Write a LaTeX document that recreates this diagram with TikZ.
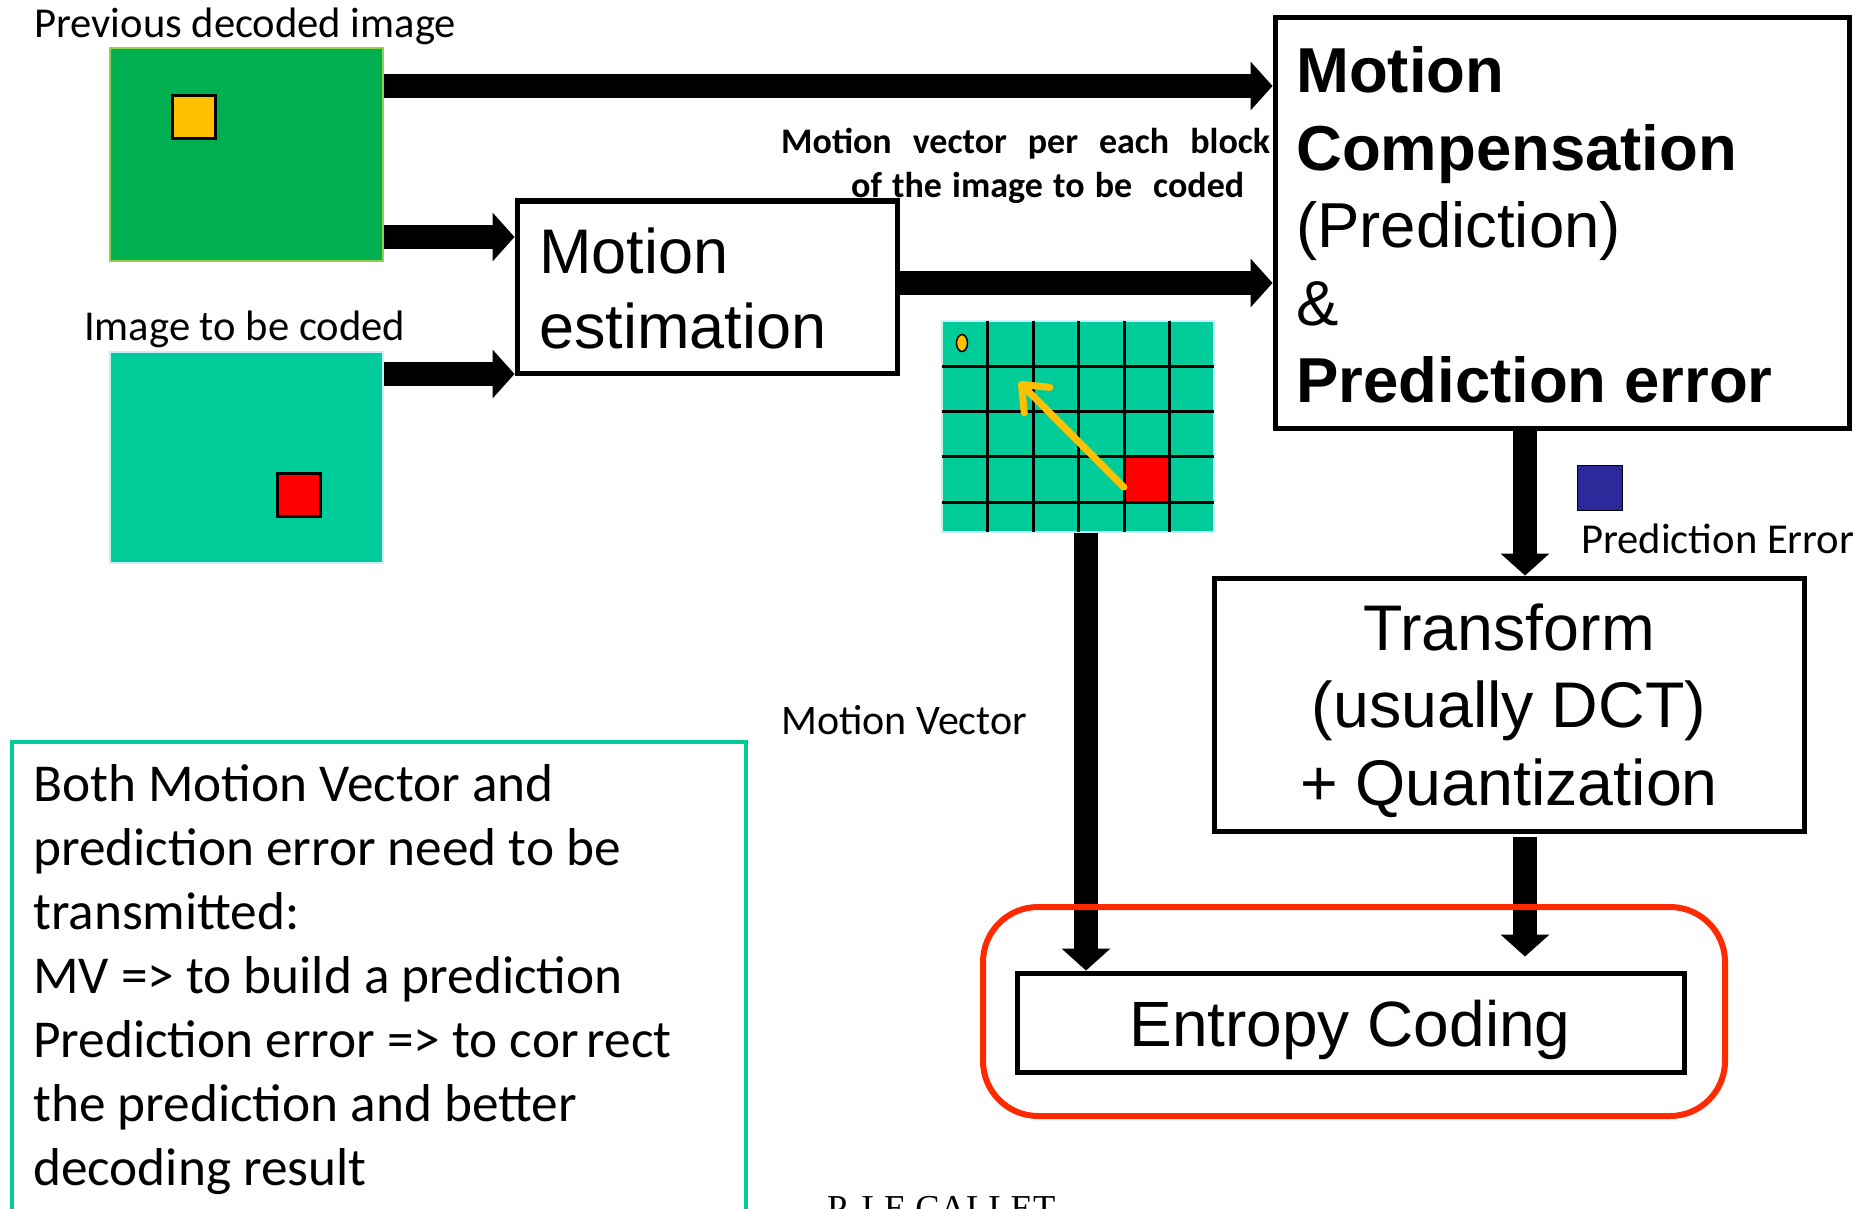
\documentclass[tikz,border=0pt]{standalone}
\usepackage{fontspec}
\setmainfont{Carlito}
\newfontfamily\calibri{Carlito}
\newfontfamily\arial{Liberation Sans}
\newfontfamily\tnr{Liberation Serif}
\usetikzlibrary{arrows.meta}

\definecolor{prevgreen}{HTML}{00B050}
\definecolor{prevedge}{HTML}{92D050}
\definecolor{curteal}{HTML}{00CC99}
\definecolor{curedge}{HTML}{CDEFFA}
\definecolor{blockyellow}{HTML}{FFC000}
\definecolor{errblue}{HTML}{2A2A9A}
\definecolor{hlred}{HTML}{FF2A00}

\begin{document}
\begin{tikzpicture}[x=1pt,y=-1pt,
  bigarrow/.style={line width=24pt,-{Triangle[length=22pt,width=49pt,line width=0pt]}},
  box/.style={draw,line width=5pt,inner sep=0pt},
  picture/.style={inner sep=0pt,line width=2pt},
  blk/.style={draw=black,line width=3pt,minimum size=43pt,inner sep=0pt},
  lbl/.style={inner sep=0pt,anchor=base west,font=\calibri\fontsize{42.6}{50}\selectfont},
  gridline/.style={line width=3pt,black},
  mvarrow/.style={draw=blockyellow,line width=7pt,line cap=round,
    -{Straight Barb[length=22pt,width=36pt,round]}}]

\useasboundingbox (0,0) rectangle (1870,1209);

% reference frame and frame to be coded
\node[lbl] (prevlbl) at (34,38) {Previous decoded image};
\node[picture,draw=prevedge,fill=prevgreen,minimum width=273pt,minimum height=213pt] (prev) at (246.5,154.5) {};
\node[blk,fill=blockyellow] (prevblk) at (194,117) {};

\node[lbl] (curlbl) at (84,340) {Image to be coded};
\node[picture,draw=curedge,fill=curteal,minimum width=273pt,minimum height=211pt] (cur) at (246.5,457.5) {};
\node[blk,fill=red] (curblk) at (299,495) {};

% motion estimation
\node[box,minimum width=380pt,minimum height=172pt] (me) at (707,287) {};
\node[anchor=base west,inner sep=0pt,font=\arial\fontsize{63}{75}\selectfont] (metext) at (539,273)
  {\vtop{\hbox{Motion}\hbox{estimation}}};

% motion compensation
\node[box,minimum width=574pt,minimum height=410pt] (mc) at (1562,223) {};
\node[anchor=base west,inner sep=0pt,font=\arial\fontsize{63.5}{77.5}\selectfont] (mctext) at (1296,93)
  {\vtop{\hbox{\bfseries Motion}\hbox{\bfseries Compensation}\hbox{(Prediction)}\hbox{\&}\hbox{\bfseries Prediction error}}};

% label of the motion vector field
\node[anchor=base west,inner sep=0pt,font=\calibri\bfseries\fontsize{36}{43}\selectfont] (mvlbl1) at (781,154)
  {\makebox[489pt][s]{Motion vector per each block}};
\node[anchor=base west,inner sep=0pt,font=\calibri\bfseries\fontsize{36}{43}\selectfont] (mvlbl2) at (851,197)
  {\makebox[393pt][s]{of the image to be\hspace{0.3em} coded}};

% block grid with the motion vector
\node[picture,line width=1.5pt,draw=curedge,fill=curteal,minimum width=272pt,minimum height=211pt] (mvgrid) at (1078,426.5) {};
\node[fill=red,minimum width=45.5pt,minimum height=45.3pt,inner sep=0pt] (redcell) at (1146.75,479.55) {};
\foreach \gx in {987.5,1033,1078.5,1124,1169.5}
  \draw[gridline] (\gx,321) -- (\gx,532);
\foreach \gy in {366.3,411.6,456.9,502.2}
  \draw[gridline] (942,\gy) -- (1214,\gy);
\draw[fill=blockyellow,line width=1.5pt] (962,343) ellipse [x radius=5.5pt,y radius=8.5pt];
\coordinate (match) at (1019,382);
\draw[mvarrow] ([yshift=-7.5pt]redcell.west) -- (match);

\node[lbl,font=\calibri\fontsize{42}{50}\selectfont] (mvlbl) at (781,734) {Motion Vector};

% prediction error
\node[draw=black,line width=1pt,fill=errblue,minimum size=45pt,inner sep=0pt] (errblk) at (1600,488) {};
\node[lbl] (errlbl) at (1581,553) {Prediction Error};

% transform and quantization
\node[box,minimum width=590pt,minimum height=253pt] (tr) at (1509,704.5) {};
\node[anchor=base,inner sep=0pt,font=\arial\fontsize{64.5}{77.5}\selectfont] (trtext) at (1509,650)
  {\vtop{\halign{\hfil#\hfil\cr Transform\cr (usually DCT)\cr + Quantization\cr}}};

% entropy coding
\node[box,minimum width=667pt,minimum height=99pt] (ent) at (1350.5,1022.5) {};
\node[anchor=base,inner sep=0pt,font=\arial\fontsize{64}{72}\selectfont] (enttext) at (1350,1046) {Entropy Coding};

% data flow
\draw[bigarrow] ([yshift=68.5pt]prev.east) coordinate (a1) -- (a1 -| mc.west);
\draw[bigarrow] ([yshift=-82.5pt]prev.east) coordinate (a2) -- (a2 -| me.west);
\draw[bigarrow] ([yshift=83.5pt]cur.east) coordinate (a3) -- (a3 -| me.west);
\draw[bigarrow] ([yshift=4pt]me.east) coordinate (a4) -- (a4 -| mc.west);

\path (mvgrid.south) ++(8,0) coordinate (mvtop);
\draw[bigarrow] (mvtop) -- (mvtop |- ent.north);

\path (mc.south) ++(-37,0) coordinate (petop);
\draw[bigarrow] (petop) -- (petop |- tr.north);

\path (tr.south) ++(16,3) coordinate (qtop);
\coordinate (qend) at ([yshift=14pt]ent.north);
\draw[bigarrow] (qtop) -- (qtop |- qend);

% highlight round the entropy coder
\node[draw=hlred,line width=6pt,rounded corners=55pt,minimum width=742pt,minimum height=209pt,inner sep=0pt] (hl) at (1354,1011.5) {};

% explanatory note
\node[draw=curteal,line width=4pt,minimum width=734pt,minimum height=498pt,inner sep=0pt] (note) at (379,991) {};
\node[anchor=base west,inner sep=0pt,font=\calibri\fontsize{53.3}{64}\selectfont] (notetext) at (33,801)
  {\vtop{\hbox{Both Motion Vector and}\hbox{prediction error need to be}\hbox{transmitted:}%
   \hbox{MV => to build a prediction}\hbox{Prediction error => to cor\kern0.15em rect}%
   \hbox{the prediction and better}\hbox{decoding result}}};

% author
\node[anchor=base west,inner sep=0pt,font=\tnr\fontsize{36.5}{43}\selectfont] (footer) at (827,1220) {P. LE CALLET};
\end{tikzpicture}
\end{document}
